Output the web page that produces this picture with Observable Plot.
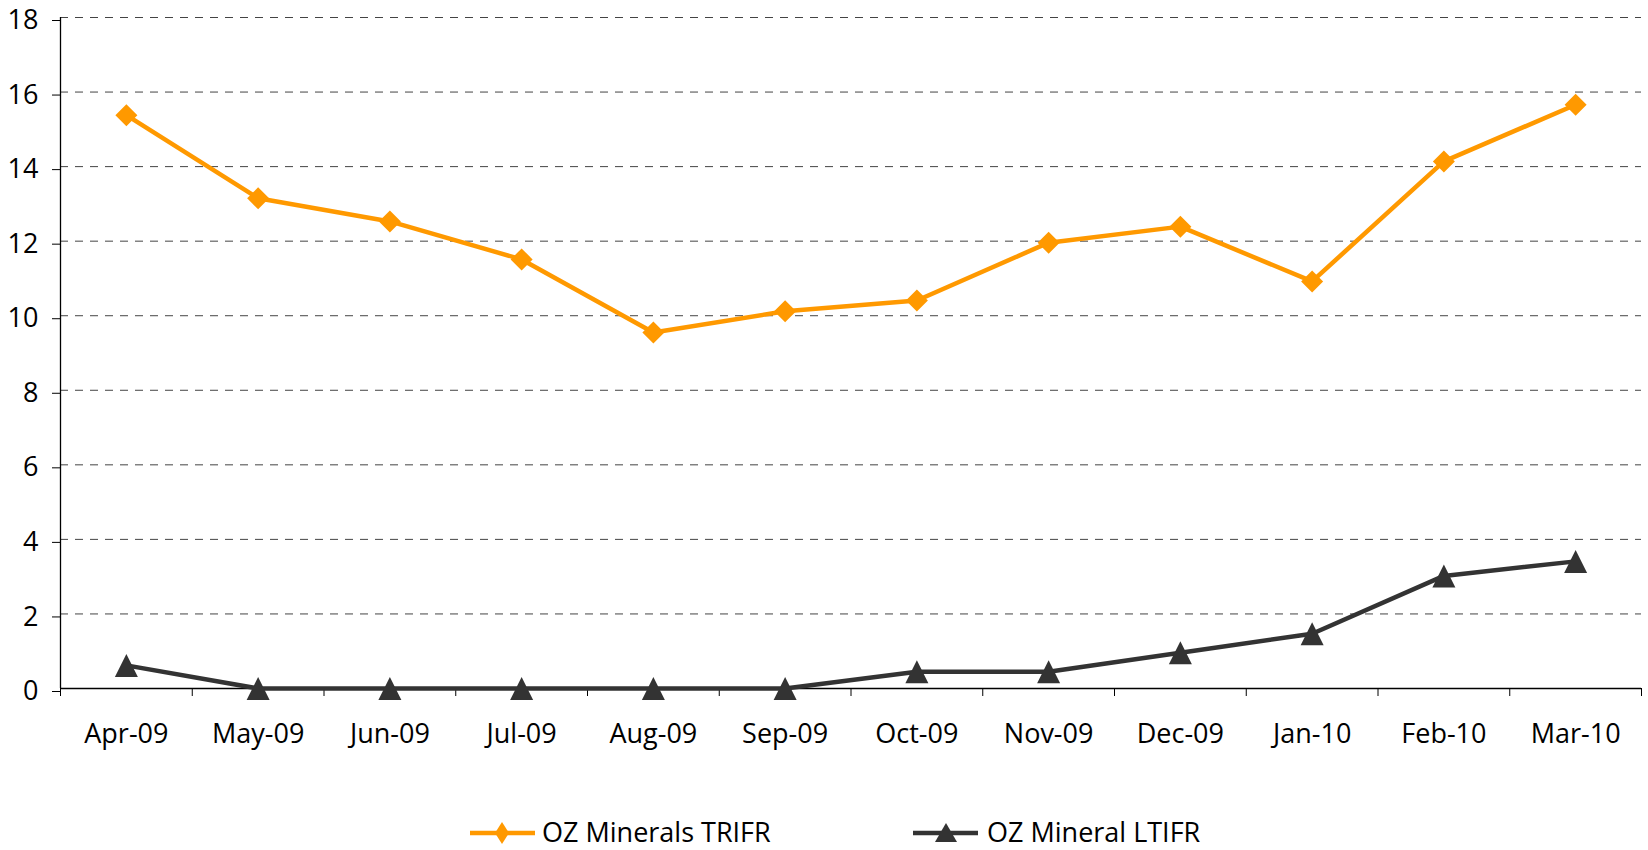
<!DOCTYPE html>
<html>
<head>
<meta charset="utf-8">
<script src="https://cdn.jsdelivr.net/npm/d3@7"></script>
<script src="https://cdn.jsdelivr.net/npm/@observablehq/plot@0.6"></script>
<style>
  html, body { margin: 0; padding: 0; background: #fff; }
  #chart svg { display: block; }
  #legend { display: block; }
</style>
</head>
<body>
<div id="chart"></div>
<svg id="legend" width="1648" height="80" font-family="Open Sans, sans-serif" font-size="27">
  <line x1="470" x2="535" y1="63" y2="63" stroke="#FF9900" stroke-width="4.5"/>
  <path d="M502,52 L509,63 L502,74 L495,63 Z" fill="#FF9900"/>
  <text x="542" y="72" fill="#000">OZ Minerals TRIFR</text>
  <line x1="913" x2="978" y1="63" y2="63" stroke="#333" stroke-width="4.5"/>
  <path d="M946,53 L957,72 L935,72 Z" fill="#333"/>
  <text x="987" y="72" fill="#000">OZ Mineral LTIFR</text>
</svg>
<script>
const months = ["Apr-09","May-09","Jun-09","Jul-09","Aug-09","Sep-09","Oct-09","Nov-09","Dec-09","Jan-10","Feb-10","Mar-10"];
const trifr = [15.38, 13.15, 12.53, 11.51, 9.55, 10.12, 10.41, 11.96, 12.39, 10.92, 14.14, 15.66];
const ltifr = [0.62, 0, 0, 0, 0, 0, 0.45, 0.45, 0.96, 1.47, 3.02, 3.41];
const yTicks = [0, 2, 4, 6, 8, 10, 12, 14, 16, 18];

const data = months.map((m, i) => ({pos: i + 0.5, month: m, trifr: trifr[i], ltifr: ltifr[i]}));
const boundaries = d3.range(months.length + 1);

const diamond = {
  draw(ctx, size) {
    const a = Math.sqrt(size / Math.PI);
    ctx.moveTo(0, -a); ctx.lineTo(a, 0); ctx.lineTo(0, a); ctx.lineTo(-a, 0); ctx.closePath();
  }
};
const triangle = {
  draw(ctx, size) {
    const a = Math.sqrt(size / Math.PI);
    ctx.moveTo(0, -a); ctx.lineTo(a, a); ctx.lineTo(-a, a); ctx.closePath();
  }
};

const chart = Plot.plot({
  width: 1648,
  height: 770,
  marginLeft: 60,
  marginRight: 7,
  marginTop: 17,
  marginBottom: 82,
  style: {fontFamily: "Open Sans, sans-serif", fontSize: "27px", color: "#000", background: "#fff"},
  x: {domain: [0, months.length], axis: null, label: null},
  y: {domain: [0, 18], axis: null, label: null},
  marks: [
    Plot.gridY(yTicks.filter(d => d > 0), {stroke: "#444", strokeOpacity: 1, strokeWidth: 1, strokeDasharray: "8,7"}),
    Plot.axisY(yTicks, {tickSize: 8, tickPadding: 14, dy: 3, tickFormat: d => String(d), stroke: "#000", fill: "#000", label: null}),
    Plot.axisX(boundaries, {tickSize: 8, tickFormat: () => "", stroke: "#000", label: null}),
    Plot.axisX(data.map(d => d.pos), {tickSize: 0, tickPadding: 35, tickFormat: d => months[Math.floor(d)], fill: "#000", label: null}),
    Plot.ruleX([0], {stroke: "#000", strokeWidth: 1.3}),
    Plot.ruleY([0], {stroke: "#000", strokeWidth: 1.3}),
    Plot.line(data, {x: "pos", y: "trifr", stroke: "#FF9900", strokeWidth: 4.5}),
    Plot.dot(data, {x: "pos", y: "trifr", symbol: diamond, r: 11, fill: "#FF9900", stroke: "none"}),
    Plot.line(data, {x: "pos", y: "ltifr", stroke: "#333333", strokeWidth: 4.5}),
    Plot.dot(data, {x: "pos", y: "ltifr", symbol: triangle, r: 11.5, fill: "#333333", stroke: "none"})
  ]
});
document.getElementById("chart").appendChild(chart);
</script>
</body>
</html>
